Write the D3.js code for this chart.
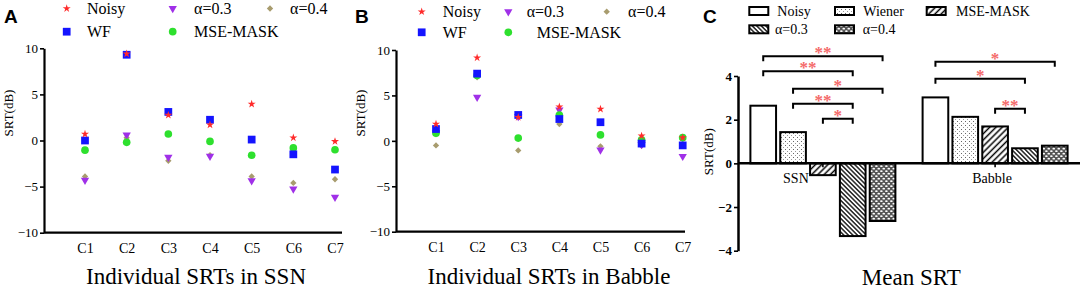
<!DOCTYPE html>
<html><head><meta charset="utf-8">
<script src="https://cdn.jsdelivr.net/npm/d3@7"></script>
<style>body{margin:0;background:#fff} svg{display:block}</style></head>
<body>
<svg id="chart" width="1084" height="291"></svg>
<script>
// ---------- DATA ----------
const categories = ["C1","C2","C3","C4","C5","C6","C7"];
const scatterSeries = ["Noisy","WF","α=0.3","α=0.4","MSE-MASK"];
const yTicksSRT = [-10,-5,0,5,10];

// Panel A: Individual SRTs in SSN
const ssnNoisy = [0.7, 9.4, 2.75, 1.7, 3.95, 0.3, -0.1];
const ssnWF    = [0.0, 9.3, 3.1, 2.25, 0.1, -1.5, -3.15];
const ssnA03   = [-4.3, 0.6, -1.8, -1.7, -4.35, -5.25, -6.15];
const ssnA04   = [-3.9, 0.3, -2.2, -1.6, -3.9, -4.6, -4.2];
const ssnMSE   = [-1.05, -0.2, 0.7, -0.1, -1.6, -0.8, -1.0];

// Panel B: Individual SRTs in Babble
const babNoisy = [1.85, 9.15, 2.6, 3.75, 3.5, 0.55, 0.35];
const babWF    = [1.3, 7.4, 2.85, 2.4, 2.05, -0.3, -0.5];
const babA03   = [0.9, 4.8, 2.7, 3.4, -1.0, -0.4, -1.7];
const babA04   = [-0.5, 7.0, -1.05, 1.85, -0.6, -0.55, 0.2];
const babMSE   = [0.85, 7.2, 0.3, 2.85, 0.65, 0.1, 0.35];

// Panel C: Mean SRT
const noiseGroups = ["SSN","Babble"];
const barSeries = ["Noisy","Wiener","MSE-MASK","α=0.3","α=0.4"];
const meanSSN    = [2.64, 1.43, -0.54, -3.33, -2.64];
const meanBabble = [3.02, 2.13, 1.69, 0.69, 0.81];
const yTicksMean = [-4,-2,0,2,4];

// significance brackets
const sigGroup  = ["SSN","SSN","SSN","SSN","SSN","Babble","Babble","Babble"];
const sigFrom   = ["Noisy","Noisy","Wiener","Wiener","MSE-MASK","Noisy","Noisy","MSE-MASK"];
const sigTo     = ["α=0.4","α=0.3","α=0.4","α=0.3","α=0.3","α=0.4","α=0.3","α=0.3"];
const sigHeight = [4.91, 4.22, 3.42, 2.73, 2.04, 4.65, 3.87, 2.5];
const sigLabel  = ["**","**","*","**","*","*","*","**"];

// ---------- STYLE ----------
const SERIF = "'Liberation Serif','Times New Roman',serif";
const SANS = "'Liberation Sans',Arial,sans-serif";
const markerStyle = {
  "Noisy":    {type: d3.symbolStar, size: 20, color: "#ff2b2b", rot: 0},
  "WF":       {type: d3.symbolSquare, size: 60, color: "#1414ff", rot: 0},
  "α=0.3":    {type: d3.symbolTriangle, size: 30, color: "#a030e8", rot: 180},
  "α=0.4":    {type: d3.symbolSquare, size: 20, color: "#a89c6e", rot: 45},
  "MSE-MASK": {type: d3.symbolCircle, size: 46, color: "#2ee02e", rot: 0}
};
const drawOrder = ["α=0.4","α=0.3","MSE-MASK","WF","Noisy"];

const svg = d3.select("#chart");
const defs = svg.append("defs");

// patterns
function linePattern(id, angle, spacing, width) {
  const p = defs.append("pattern").attr("id", id).attr("patternUnits","userSpaceOnUse")
    .attr("width", spacing).attr("height", spacing)
    .attr("patternTransform", `rotate(${angle})`);
  p.append("rect").attr("width", spacing).attr("height", spacing).attr("fill","#fff");
  p.append("line").attr("x1", spacing/2).attr("x2", spacing/2).attr("y1",0).attr("y2",spacing)
    .attr("stroke","#000").attr("stroke-width", width);
}
{
  const p = defs.append("pattern").attr("id","pDots").attr("patternUnits","userSpaceOnUse")
    .attr("width",4).attr("height",4);
  p.append("rect").attr("width",4).attr("height",4).attr("fill","#fff");
  p.append("rect").attr("x",1).attr("y",1).attr("width",1).attr("height",1).attr("fill","#666");
  p.append("rect").attr("x",3).attr("y",3).attr("width",1).attr("height",1).attr("fill","#999");
}
linePattern("pFwd", 45, 4.4, 1.5);
linePattern("pBack", -45, 3.2, 1.3);
{
  const p = defs.append("pattern").attr("id","pHoney").attr("patternUnits","userSpaceOnUse")
    .attr("width",5).attr("height",5);
  p.append("rect").attr("width",5).attr("height",5).attr("fill","#555");
  p.append("ellipse").attr("cx",1.3).attr("cy",1.2).attr("rx",1.4).attr("ry",0.9).attr("fill","#fff");
  p.append("ellipse").attr("cx",3.8).attr("cy",3.7).attr("rx",1.4).attr("ry",0.9).attr("fill","#fff");
}
const barFill = {"Noisy":"#fff","Wiener":"url(#pDots)","MSE-MASK":"url(#pFwd)","α=0.3":"url(#pBack)","α=0.4":"url(#pHoney)"};

function styleAxis(g, fs, bold) {
  g.attr("font-family", null);
  g.selectAll("path.domain").attr("stroke","#000").attr("stroke-width",2.2);
  g.selectAll(".tick line").attr("stroke","#000").attr("stroke-width",1.6);
  g.selectAll(".tick text").attr("fill","#000").style("font-family",SERIF)
    .style("font-size",fs+"px").style("font-weight", bold ? "bold":"normal");
}

// ---------- SCATTER PANELS ----------
function scatterPanel(o) {
  const g = svg.append("g");
  const x = d3.scalePoint().domain(categories).range(o.xRange);
  const y = d3.scaleLinear().domain([-10,10]).range(o.yRange);
  const ya = g.append("g").attr("transform",`translate(${o.axisX},0)`)
    .call(d3.axisLeft(y).tickValues(yTicksSRT).tickSize(4).tickSizeOuter(0).tickPadding(2));
  styleAxis(ya, 13, false);
  const xa = g.append("g").attr("transform",`translate(0,${y(-10)})`)
    .call(d3.axisBottom(x).tickSize(0).tickPadding(10));
  xa.select("path.domain").attr("d", `M${o.axisX},0H${o.axisEnd}`);
  styleAxis(xa, 14, false);

  const series = {"Noisy":o.noisy,"WF":o.wf,"α=0.3":o.a03,"α=0.4":o.a04,"MSE-MASK":o.mse};
  drawOrder.forEach(name => {
    const st = markerStyle[name];
    const sym = d3.symbol().type(st.type).size(st.size);
    g.append("g").selectAll("path").data(series[name]).join("path")
      .attr("d", sym)
      .attr("transform",(d,i)=>`translate(${x(categories[i])},${y(d)}) rotate(${st.rot})`)
      .attr("fill", st.color);
  });
  const L = o.legend;
  scatterSeries.forEach((name) => {
    const pos = L[name];
    const st = markerStyle[name];
    g.append("path").attr("d", d3.symbol().type(st.type).size(st.size)())
      .attr("transform",`translate(${pos[0]},${pos[1]}) rotate(${st.rot})`).attr("fill",st.color);
    g.append("text").attr("x",pos[2]).attr("y",pos[1]+5.5).text(name)
      .style("font-family",SERIF).style("font-size","16px");
  });
  g.append("text").attr("transform",`translate(${o.ylabX},${o.ylabY}) rotate(-90)`)
    .attr("text-anchor","middle").text("SRT(dB)").style("font-family",SERIF).style("font-size","13px");
  g.append("text").attr("x",o.titleX).attr("y",284).attr("text-anchor","middle").text(o.title)
    .style("font-family",SERIF).style("font-size","23px");
  g.append("text").attr("x",o.letterX).attr("y",23).text(o.letter)
    .style("font-family",SANS).style("font-weight","bold").style("font-size","19px");
}

scatterPanel({
  xRange:[85,335], yRange:[232.7,48.3], axisX:44, axisEnd:342,
  noisy:ssnNoisy, wf:ssnWF, a03:ssnA03, a04:ssnA04, mse:ssnMSE,
  legend:{"Noisy":[66.7,8.5,87],"WF":[66.7,31.7,87],"α=0.3":[172.7,8.5,194],"α=0.4":[270,8.5,290],"MSE-MASK":[172.7,31.7,194]},
  ylabX:13, ylabY:113, titleX:196, title:"Individual SRTs in SSN", letterX:4, letter:"A"
});
scatterPanel({
  xRange:[436,682.7], yRange:[231.7,50], axisX:396, axisEnd:685,
  noisy:babNoisy, wf:babWF, a03:babA03, a04:babA04, mse:babMSE,
  legend:{"Noisy":[421.7,11.7,442.7],"WF":[421.7,32.3,442.7],"α=0.3":[508.3,11.7,526.7],"α=0.4":[606.7,11.7,628],"MSE-MASK":[508.3,32.3,536.7]},
  ylabX:365, ylabY:113, titleX:549, title:"Individual SRTs in Babble", letterX:355, letter:"B"
});

// ---------- BAR PANEL ----------
{
  const g = svg.append("g");
  const x0 = d3.scaleBand().domain(noiseGroups).range([738,1080]).paddingInner(0.158).paddingOuter(0.072);
  const x1 = d3.scaleBand().domain(barSeries).range([0, x0.bandwidth()]).paddingInner(0.14).paddingOuter(0);
  const y = d3.scaleLinear().domain([-4,4]).range([250.7,76]);
  const rows = [meanSSN, meanBabble];

  noiseGroups.forEach((grp, gi) => {
    g.append("g").selectAll("rect").data(rows[gi]).join("rect")
      .attr("x",(d,i)=>x0(grp)+x1(barSeries[i]))
      .attr("width",x1.bandwidth())
      .attr("y",d=>y(Math.max(0,d)))
      .attr("height",d=>Math.abs(y(d)-y(0)))
      .attr("fill",(d,i)=>barFill[barSeries[i]])
      .attr("stroke","#000").attr("stroke-width",2);
  });

  const ya = g.append("g").attr("transform","translate(738,0)")
    .call(d3.axisLeft(y).tickValues(yTicksMean).tickSize(4).tickSizeOuter(0).tickPadding(2));
  styleAxis(ya, 13, true);
  ya.select("path.domain").attr("stroke-width",2.5);

  const xa = g.append("g").attr("transform",`translate(0,${y(0)})`)
    .call(d3.axisBottom(x0).tickSize(4).tickSizeOuter(0).tickPadding(6));
  xa.select("path.domain").attr("d","M738,0H1080");
  styleAxis(xa, 14, false);
  xa.select("path.domain").attr("stroke-width",2.5);
  xa.selectAll(".tick text").attr("dx",(d)=>d==="SSN"?-27:-3);

  sigLabel.forEach((lab,i)=>{
    const xa1 = x0(sigGroup[i]) + x1(sigFrom[i]) + x1.bandwidth()/2;
    const xa2 = x0(sigGroup[i]) + x1(sigTo[i]) + x1.bandwidth()/2;
    const yy = y(sigHeight[i]);
    g.append("path").attr("d",`M${xa1},${yy+5}V${yy}H${xa2}V${yy+5}`)
      .attr("fill","none").attr("stroke","#000").attr("stroke-width",2);
    g.append("text").attr("x",(xa1+xa2)/2).attr("y",yy+2).attr("text-anchor","middle")
      .text(lab).attr("fill","#f46a6a").style("font-family",SERIF).style("font-size","17px").style("font-weight","bold");
  });

  const legPos = {"Noisy":[749.3,11,777.3],"Wiener":[835,11,863.3],"MSE-MASK":[926.7,11,956],
                  "α=0.3":[749.3,29.3,775],"α=0.4":[835,29.3,862.7]};
  barSeries.forEach(name=>{
    const p = legPos[name];
    g.append("rect").attr("x",p[0]).attr("y",p[1]-4).attr("width",19).attr("height",8)
      .attr("fill",barFill[name]).attr("stroke","#000").attr("stroke-width",2);
    g.append("text").attr("x",p[2]).attr("y",p[1]+5).text(name)
      .style("font-family",SERIF).style("font-size","14px");
  });

  g.append("text").attr("transform","translate(713,151.7) rotate(-90)").attr("text-anchor","middle")
    .text("SRT(dB)").style("font-family",SERIF).style("font-size","13px");
  g.append("text").attr("x",911.3).attr("y",285).attr("text-anchor","middle").text("Mean SRT")
    .style("font-family",SERIF).style("font-size","23px");
  g.append("text").attr("x",703).attr("y",23).text("C")
    .style("font-family",SANS).style("font-weight","bold").style("font-size","19px");
}
</script>
</body></html>
